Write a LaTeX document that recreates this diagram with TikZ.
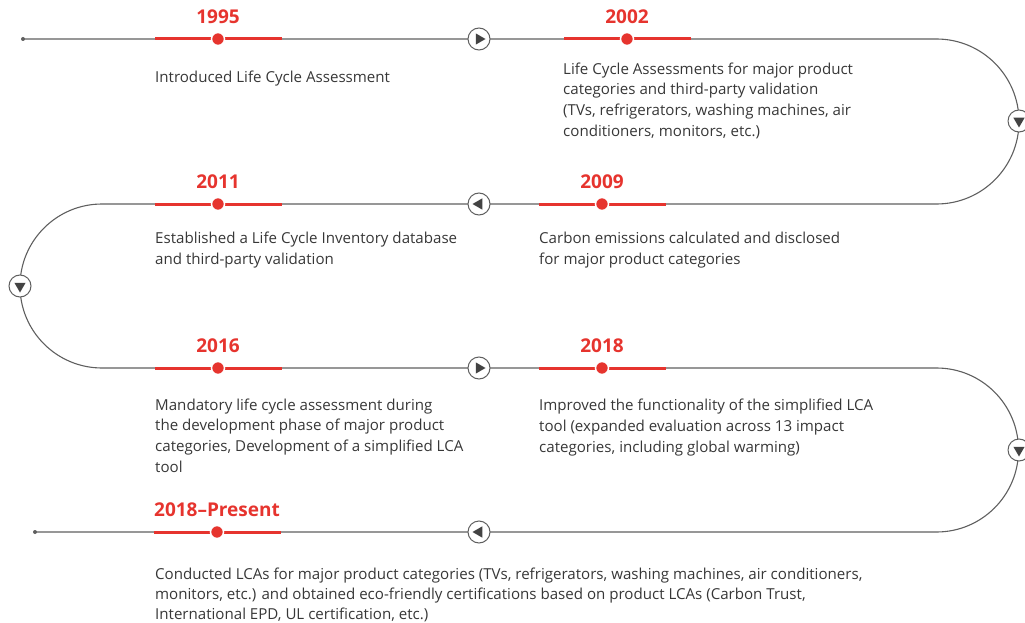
\documentclass[tikz,border=0pt]{standalone}
\usepackage{fontspec}
\setmainfont{Open Sans}
\usetikzlibrary{shapes.geometric, positioning}
\definecolor{lgred}{RGB}{230, 52, 46}
\definecolor{pathgray}{RGB}{95, 95, 95}
\definecolor{textgray}{RGB}{55, 55, 55}

\tikzset{
    year/.style={text=lgred, font=\fontsize{19}{22}\selectfont\bfseries, inner sep=0pt},
    desc/.style={text=textgray, font=\fontsize{15.1}{20.6}\selectfont, align=left, anchor=base west, inner sep=0pt},
    dot/.style={circle, fill=lgred, draw=white, line width=1.5pt, minimum size=13pt, inner sep=0pt},
    bar/.style={lgred, line width=3pt},
    turn/.style={circle, draw=pathgray, fill=white, line width=1pt, minimum size=22pt, inner sep=0pt},
    tip/.style={regular polygon, regular polygon sides=3, fill=pathgray!70!black, minimum size=13pt, inner sep=0pt},
}

\begin{document}
\begin{tikzpicture}[x=1pt, y=-1pt]
    \useasboundingbox (0,0) rectangle (1025,623);

    % Winding time line
    \coordinate (start) at (23,39);
    \coordinate (end) at (35,532);
    \draw[pathgray, line width=1.1pt] (start) -- (936.5,39)
        arc[start angle=90, end angle=-90, radius=82.5pt] -- (102,204)
        arc[start angle=90, end angle=270, radius=82pt] -- (936.5,368)
        arc[start angle=90, end angle=-90, radius=82pt] -- (end);
    \fill[pathgray] (start) circle (2pt);
    \fill[pathgray] (end) circle (2pt);

    % Direction marks
    \foreach \x/\y/\r/\name in {479/39/-90/t1, 1019/121/180/t2, 479/204/90/t3, 20/286/180/t4,
                                479/368/-90/t5, 1019/450/180/t6, 479/532/90/t7} {
        \node[turn] (\name) at (\x,\y) {};
        \node[tip, shape border rotate=\r] at (\name) {};
    }

    % Years
    \foreach \x/\y/\name in {218/39/d1995, 627/39/d2002, 218/204/d2011, 602/204/d2009,
                             218/368/d2016, 602/368/d2018, 217/532/dnow} {
        \draw[bar] (\x-63,\y) -- (\x+64,\y);
        \node[dot] (\name) at (\x,\y) {};
    }

    \node[year, above=8pt of d1995] (y1995) {1995};
    \node[year, above=8pt of d2002] (y2002) {2002};
    \node[year, above=8pt of d2011] (y2011) {2011};
    \node[year, above=8pt of d2009] (y2009) {2009};
    \node[year, above=8pt of d2016] (y2016) {2016};
    \node[year, above=8pt of d2018] (y2018) {2018};
    \node[year, above=8pt of dnow] (ynow) {2018--Present};

    % Milestones (placed at the baseline of their last line)
    \node[desc] (t1995) at (155,83) {Introduced Life Cycle Assessment};
    \node[desc] (t2002) at (563,136) {Life Cycle Assessments for major product\\categories and third-party validation\\(TVs, refrigerators, washing machines, air\\conditioners, monitors, etc.)};
    \node[desc] (t2011) at (155,264) {Established a Life Cycle Inventory database\\and third-party validation};
    \node[desc] (t2009) at (539,264) {Carbon emissions calculated and disclosed\\for major product categories};
    \node[desc] (t2016) at (155,472) {Mandatory life cycle assessment during\\the development phase of major product\\categories, Development of a simplified LCA\\tool};
    \node[desc] (t2018) at (539,452) {Improved the functionality of the simplified LCA\\tool (expanded evaluation across 13 impact\\categories, including global warming)};
    \node[desc, font=\fontsize{15.1}{20}\selectfont] (tnow) at (155,619) {Conducted LCAs for major product categories (TVs, refrigerators, washing machines, air conditioners,\\monitors, etc.) and obtained eco-friendly certifications based on product LCAs (Carbon Trust,\\International EPD, UL certification, etc.)};
\end{tikzpicture}
\end{document}
